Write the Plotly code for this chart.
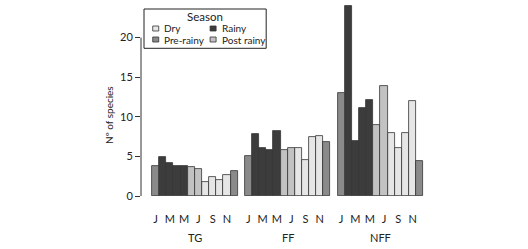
import plotly.graph_objects as go

# ---- data ----
groups = ["TG", "FF", "NFF"]
months = ["J", "F", "M", "A", "M", "J", "J", "A", "S", "O", "N", "D"]
month_season = ["Pre-rainy", "Rainy", "Rainy", "Rainy", "Rainy", "Post rainy",
                "Post rainy", "Dry", "Dry", "Dry", "Dry", "Pre-rainy"]
tg_values = [3.8, 4.9, 4.2, 3.75, 3.85, 3.6, 3.35, 1.8, 2.45, 2.05, 2.7, 3.1]
ff_values = [5.0, 7.85, 6.1, 5.8, 8.25, 5.8, 6.0, 6.05, 4.6, 7.5, 7.6, 6.85]
nff_values = [13.0, 24.0, 7.0, 11.1, 12.1, 9.0, 13.9, 8.0, 6.0, 8.0, 12.0, 4.4]
group_values = [tg_values, ff_values, nff_values]
season_order = ["Dry", "Rainy", "Pre-rainy", "Post rainy"]
season_colors = {"Dry": "#e6e6e6", "Rainy": "#3c3c3c",
                 "Pre-rainy": "#8a8a8a", "Post rainy": "#c2c2c2"}
y_ticks = [0, 5, 10, 15, 20]
month_ticks_shown = [0, 2, 4, 6, 8, 10]

FONT = "Lato"
TXT = "#222222"
W, H = 528, 249
L, T = 141, 4
PW, PH = 288.6, 192
R = W - L - PW
B = H - T - PH
GAP = 13

def px_x(px):
    return (px - L) / PW

def px_y(py):
    return (T + PH - py) / PH

fig = go.Figure()
for s in season_order:
    xs, ys = [], []
    for g, vals in enumerate(group_values):
        for m, v in enumerate(vals):
            if month_season[m] == s:
                xs.append(g * GAP + m)
                ys.append(v)
    fig.add_trace(go.Bar(x=xs, y=ys, width=1, name=s,
                         marker=dict(color=season_colors[s],
                                     line=dict(color="#333333", width=0.8)),
                         showlegend=False, hoverinfo="skip"))

tickvals = [g * GAP + m for g in range(len(groups)) for m in month_ticks_shown]
ticktext = [months[m] for g in range(len(groups)) for m in month_ticks_shown]

fig.update_layout(
    width=W, height=H,
    margin=dict(l=L, r=R, t=T, b=B, pad=0),
    paper_bgcolor="white", plot_bgcolor="white",
    font=dict(family=FONT, size=10, color=TXT),
    bargap=0,
    xaxis=dict(range=[-2.04, 38.44], tickvals=tickvals, ticktext=ticktext,
               showgrid=False, zeroline=False, showline=False, ticks="",
               tickfont=dict(size=11, color=TXT), ticklabelstandoff=15),
    yaxis=dict(range=[0, 24.24], tickvals=y_ticks, showgrid=False,
               zeroline=False, showline=False, ticks="outside", ticklen=5,
               tickcolor="#333333", tickwidth=1,
               tickfont=dict(size=11, color=TXT)),
)

# R-style y axis line spanning the tick range
fig.add_shape(type="line", xref="paper", yref="y", x0=0, x1=0,
              y0=y_ticks[0], y1=y_ticks[-1], line=dict(color="#333333", width=1))

# group labels
for g, name in enumerate(groups):
    fig.add_annotation(x=g * GAP + 5.5, y=px_y(237), xref="x", yref="paper",
                       text=name, showarrow=False, font=dict(size=11, color=TXT),
                       xanchor="center", yanchor="middle")

# y title
fig.add_annotation(x=px_x(109), y=px_y(115), xref="paper", yref="paper",
                   text="Nº of species", textangle=-90, showarrow=False,
                   font=dict(size=10, color=TXT), xanchor="center", yanchor="middle")

# legend (manual)
fig.add_shape(type="rect", xref="paper", yref="paper",
              x0=px_x(144), x1=px_x(266), y0=px_y(48.3), y1=px_y(9),
              line=dict(color="#222222", width=1), fillcolor="white", layer="above")
fig.add_annotation(x=px_x(205), y=px_y(16.5), xref="paper", yref="paper",
                   text="Season", showarrow=False, font=dict(size=11.5, color=TXT),
                   xanchor="center", yanchor="middle")
legend_pos = {"Dry": (155.7, 28.5), "Rainy": (213, 28.5),
              "Pre-rainy": (155.7, 39.5), "Post rainy": (213, 39.5)}
for s in season_order:
    cx, cy = legend_pos[s]
    fig.add_shape(type="rect", xref="paper", yref="paper",
                  x0=px_x(cx - 3), x1=px_x(cx + 3), y0=px_y(cy + 2.5), y1=px_y(cy - 2.5),
                  line=dict(color="#333333", width=0.8), fillcolor=season_colors[s],
                  layer="above")
    fig.add_annotation(x=px_x(cx + 6.5), y=px_y(cy), xref="paper", yref="paper",
                       text=s, showarrow=False, font=dict(size=10, color=TXT),
                       xanchor="left", yanchor="middle")

fig.write_html("out.html", config={"displayModeBar": False},
               post_script="document.body.style.margin='0px';document.body.style.overflow='hidden';")
